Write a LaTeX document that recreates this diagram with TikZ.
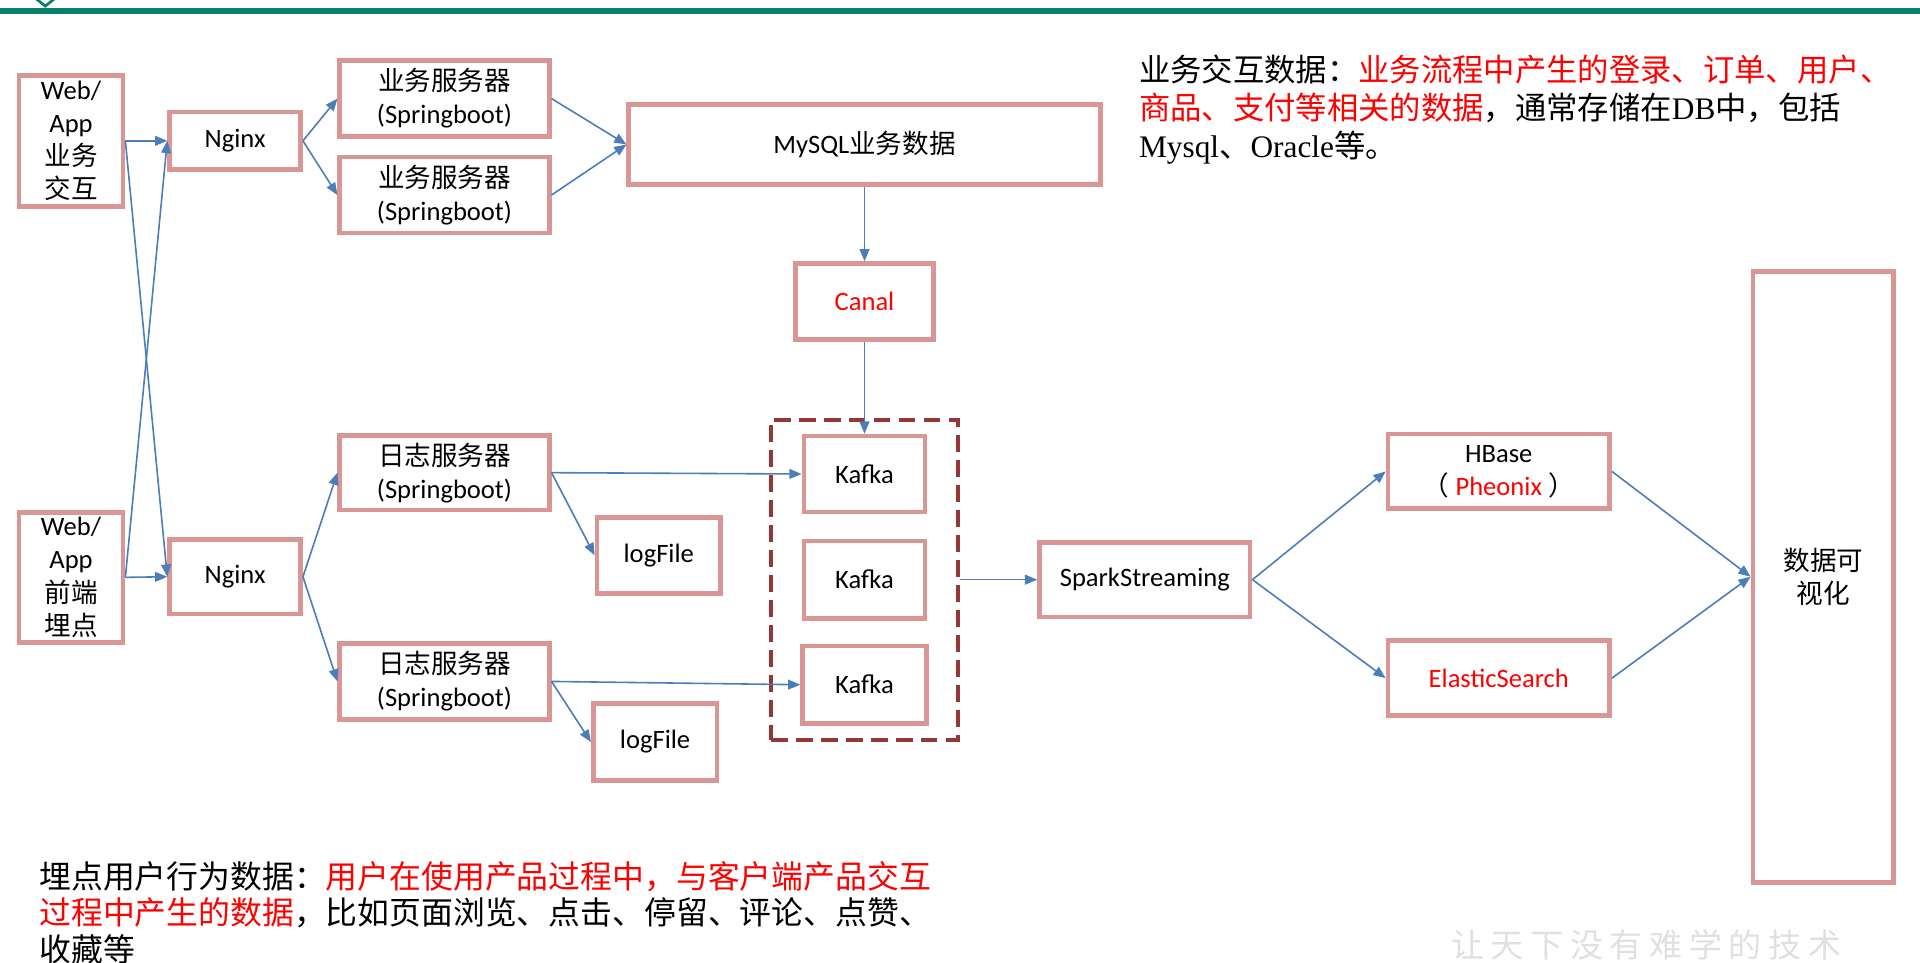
\documentclass[tikz,border=0pt]{standalone}
\usepackage{fontspec}
\setmainfont{Carlito}
\newfontfamily\zh{Noto Sans CJK SC}
\newfontfamily\zhmark[LetterSpace=20]{Noto Sans CJK SC}
\newfontfamily\tnr{Liberation Serif}
\usetikzlibrary{arrows.meta,positioning,fit}
\definecolor{boxpink}{HTML}{D99694}
\definecolor{flowblue}{HTML}{4A7EBB}
\definecolor{kafkared}{HTML}{953735}
\definecolor{headgreen}{HTML}{0A7F6A}
\newcommand{\boxfont}{\fontsize{21.7}{27}\selectfont}

\begin{document}
\begin{tikzpicture}[x=1pt,y=-1pt,>={Triangle[length=10pt,width=8pt]},
    box/.style={draw=boxpink,line width=3.8pt,fill=white,align=center,font=\boxfont,inner sep=1pt},
    flow/.style={->,flowblue,line width=1.3pt},
    note/.style={anchor=north west,align=left,inner sep=0pt}]
  \useasboundingbox (0,0) rectangle (1568,786);
  % header bar
  \draw[headgreen,line width=4.6pt] (0,9) -- (1568,9);
  \draw[headgreen,line width=2.2pt] (27,-3) -- (37,5) -- (47,-3);

  % sources
  \node[box,minimum width=85pt,minimum height=107pt] (web1) at (58,115) {Web/\\App\\{\zh 业务}\\{\zh 交互}};
  \node[box,minimum width=85pt,minimum height=106pt] (web2) at (58,471.5) {Web/\\App\\{\zh 前端}\\{\zh 埋点}};
  \node[box,minimum width=107pt,minimum height=47pt] (ngx1) at (192,115) {Nginx};
  \node[box,minimum width=107pt,minimum height=61pt] (ngx2) at (192,471) {Nginx};

  % business side
  \node[box,minimum width=171pt,minimum height=62pt] (biz1) at (363,80.5) {{\zh 业务服务器}\\(Springboot)};
  \node[box,minimum width=171pt,minimum height=62pt,below=13pt of biz1] (biz2) {{\zh 业务服务器}\\(Springboot)};
  \node[box,minimum width=385pt,minimum height=65pt] (mysql) at (706,118) {MySQL{\zh 业务数据}};
  \node[box,minimum width=113pt,minimum height=62pt,below=61pt of mysql,text=red] (canal) {Canal};

  % kafka
  \node[box,minimum width=99pt,minimum height=62pt,below=75pt of canal] (kfk1) {Kafka};
  \node[box,minimum width=99pt,minimum height=63pt,below=20pt of kfk1] (kfk2) {Kafka};
  \node[box,minimum width=101pt,minimum height=63pt,below=19pt of kfk2] (kfk3) {Kafka};
  \node[draw=kafkared,line width=3.3pt,dash pattern=on 13.6pt off 6.8pt,inner xsep=24pt,inner ysep=11.4pt,fit=(kfk1)(kfk3)] (kfkgrp) {};

  % log side
  \node[box,minimum width=171pt,minimum height=61pt] (log1) at (363,386) {{\zh 日志服务器}\\(Springboot)};
  \node[box,minimum width=171pt,minimum height=62pt] (log2) at (363,556.5) {{\zh 日志服务器}\\(Springboot)};
  \node[box,minimum width=101pt,minimum height=62pt] (lf1) at (538,453.5) {logFile};
  \node[box,minimum width=101pt,minimum height=63pt] (lf2) at (535,606) {logFile};

  % stream and storage
  \node[box,minimum width=172pt,minimum height=61pt,right=63pt of kfkgrp] (spark) {SparkStreaming};
  \node[box,minimum width=181pt,minimum height=61pt] (hbase) at (1224,385) {HBase\\{\zh （} \textcolor{red}{Pheonix} {\zh ）}};
  \node[box,minimum width=181pt,minimum height=61pt,below=104pt of hbase,text=red] (es) {ElasticSearch};
  \node[box,minimum width=115pt,minimum height=499pt,font=\boxfont\zh] (vis) at (1489,471) {数据可\\视化};

  % notes
  \node[note,font=\zh\fontsize{25.6}{31}\selectfont] (bizinfo) at (930,45) {业务交互数据：\textcolor{red}{业务流程中产生的登录、订单、用户、}\\\textcolor{red}{商品、支付等相关的数据}，通常存储在{\tnr DB}中，包括\\{\tnr Mysql}、{\tnr Oracle}等。};
  \node[note,font=\zh\fontsize{26}{30}\selectfont] (trackinfo) at (32,703) {埋点用户行为数据：\textcolor{red}{用户在使用产品过程中，与客户端产品交互}\\\textcolor{red}{过程中产生的数据}，比如页面浏览、点击、停留、评论、点赞、\\收藏等};
  \node[note,text=black!12,font=\zhmark\fontsize{27}{28}\selectfont] (mark) at (1185,759) {让天下没有难学的技术};

  \draw[flow] (web1.east) -- (ngx1.west);
  \draw[flow] (web1.east) -- (ngx2.west);
  \draw[flow] (web2.east) -- (ngx2.west);
  \draw[flow] (web2.east) -- (ngx1.west);
  \draw[flow] (ngx1.east) -- (biz1.west);
  \draw[flow] (ngx1.east) -- (biz2.west);
  \draw[flow] (biz1.east) -- (mysql.west);
  \draw[flow] (biz2.east) -- (mysql.west);
  \draw[flow] (mysql) -- (canal);
  \draw[flow] (canal) -- (kfk1);
  \draw[flow] (ngx2.east) -- (log1.west);
  \draw[flow] (ngx2.east) -- (log2.west);
  \draw[flow] (log1.east) -- (kfk1.west);
  \draw[flow] (log1.east) -- (lf1.west);
  \draw[flow] (log2.east) -- (kfk3.west);
  \draw[flow] (log2.east) -- (lf2.west);
  \draw[flow] (kfkgrp) -- (spark);
  \draw[flow] (spark.east) -- (hbase.west);
  \draw[flow] (spark.east) -- (es.west);
  \draw[flow] (hbase.east) -- (vis.west);
  \draw[flow] (es.east) -- (vis.west);
\end{tikzpicture}
\end{document}
